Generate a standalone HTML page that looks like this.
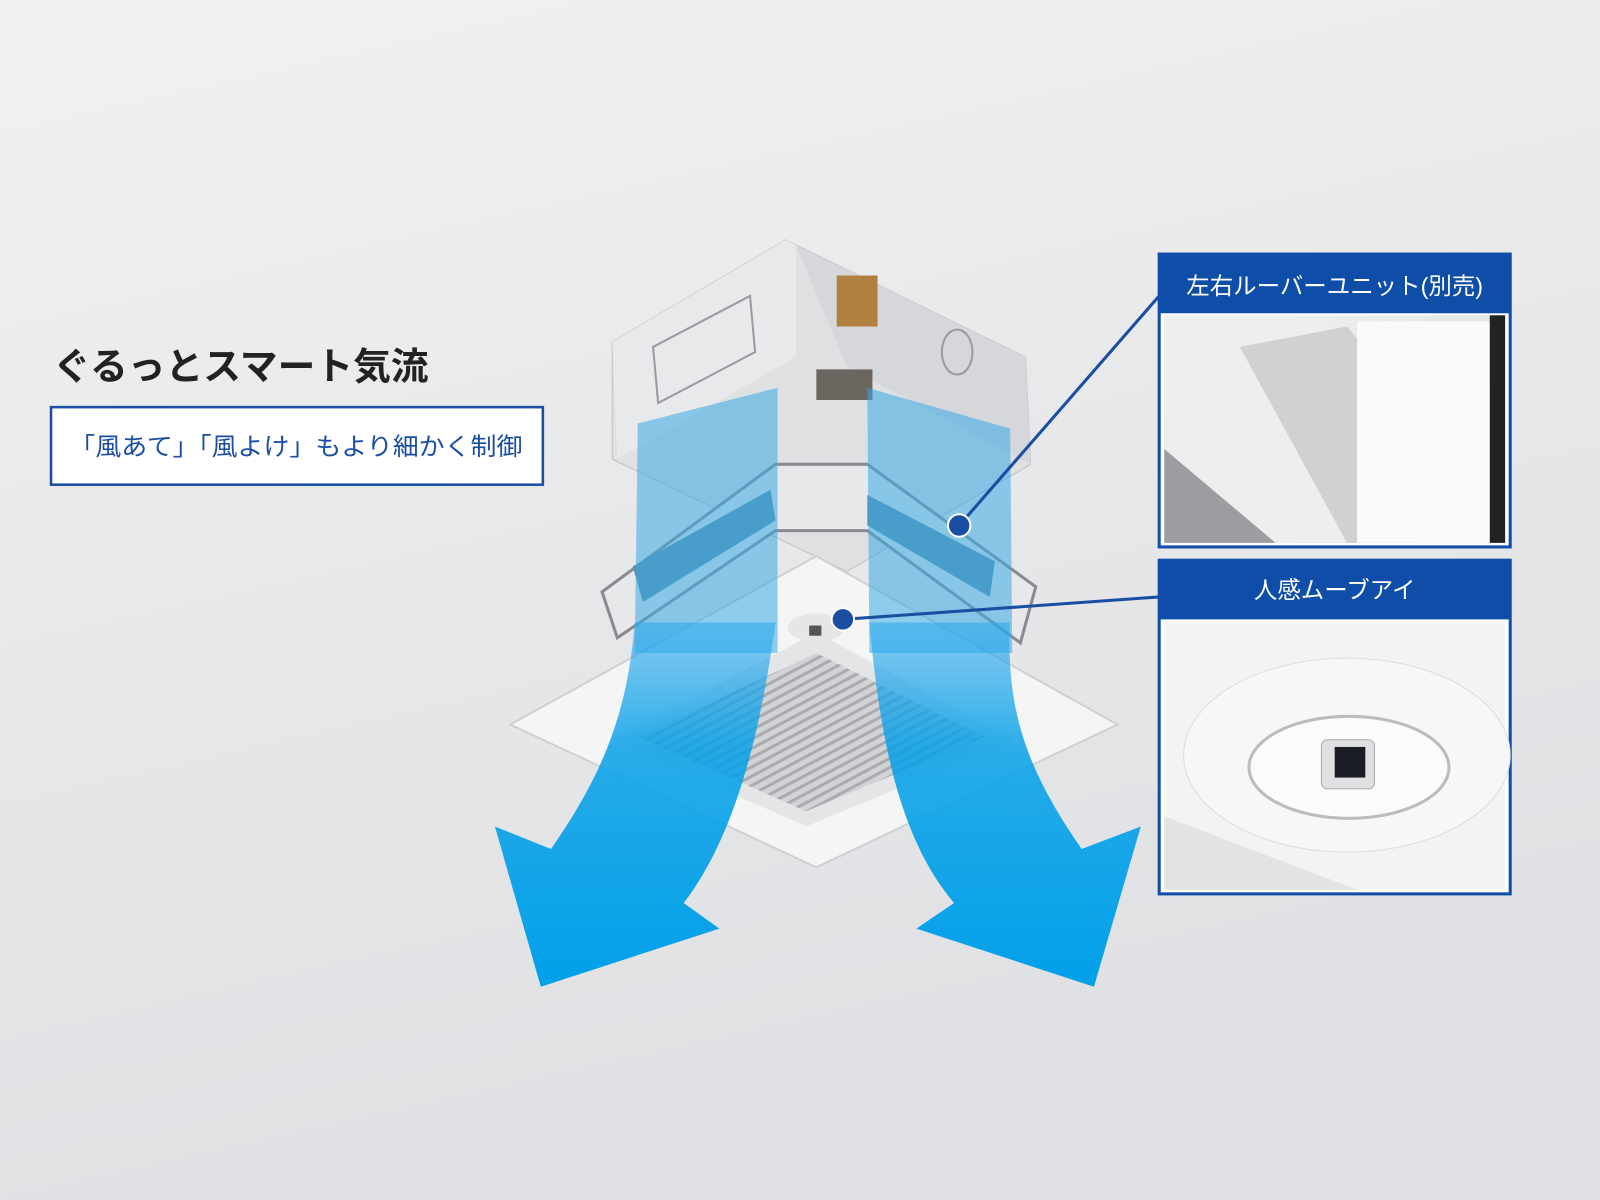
<!DOCTYPE html>
<html><head><meta charset="utf-8"><style>
html,body{margin:0;padding:0;width:1600px;height:1200px;overflow:hidden;background:#ececec}
svg{display:block}
text{font-family:"Liberation Sans","Noto Sans CJK JP",sans-serif}
</style></head><body>
<svg width="1600" height="1200" viewBox="0 0 1568 1176" preserveAspectRatio="none">
<defs>
<linearGradient id="bg" x1="0" y1="0" x2="0.3" y2="1"><stop offset="0" stop-color="#f1f1f1"/><stop offset="1" stop-color="#dfe0e3"/></linearGradient>
<linearGradient id="ar" x1="0" y1="0" x2="0" y2="1"><stop offset="0" stop-color="#2aa8ec" stop-opacity="0.55"/><stop offset="0.35" stop-color="#06a0e8" stop-opacity="0.85"/><stop offset="1" stop-color="#00a0e9"/></linearGradient>
<pattern id="gr" width="8" height="8" patternUnits="userSpaceOnUse" patternTransform="rotate(-28)"><rect width="8" height="8" fill="#d2d3d5"/><rect width="8" height="3" fill="#a9abae"/></pattern>
<linearGradient id="p1" x1="0" y1="0" x2="1" y2="1"><stop offset="0" stop-color="#f4f4f4"/><stop offset="1" stop-color="#d6d7d9"/></linearGradient>
</defs>
<rect width="1568" height="1176" fill="url(#bg)"/>

<text x="52" y="372" font-size="37" font-weight="bold" fill="#222" textLength="368" lengthAdjust="spacingAndGlyphs">ぐるっとスマート気流</text>
<rect x="50" y="399" width="482" height="76" fill="#fff" stroke="#1a4ea3" stroke-width="2.5"/>
<text x="68" y="446" font-size="24" fill="#1a4ea3" textLength="444" lengthAdjust="spacingAndGlyphs">「風あて」「風よけ」もより細かく制御</text>

<polygon points="600,335 770,235 1005,350 1010,455 830,560 600,450" fill="#dfe0e2" stroke="#bfc0c3"/>
<polygon points="600,335 770,235 780,240 780,350 605,450" fill="#e8e9eb"/>
<polygon points="780,240 1005,350 1010,455 830,360" fill="#d6d7da"/>
<rect x="820" y="270" width="40" height="50" fill="#b08040"/>
<polygon points="640,340 735,290 740,345 645,395" fill="none" stroke="#9a9ba0" stroke-width="2"/>
<ellipse cx="938" cy="345" rx="15" ry="22" fill="none" stroke="#9a9ba0" stroke-width="2"/>
<rect x="800" y="362" width="55" height="30" fill="#6b6660"/>
<polygon points="590,580 760,455 850,455 1015,575 1000,630 850,520 760,520 605,625" fill="#e8e8ea" stroke="#8a8b90" stroke-width="3"/>
<polygon points="620,555 755,480 760,510 630,590" fill="#5d8fa8"/>
<polygon points="850,485 975,550 970,585 850,515" fill="#5d8fa8"/>
<polygon points="500,710 800,545 1095,710 800,850" fill="#f5f5f6" stroke="#cfd0d3" stroke-width="2"/>
<polygon points="600,725 800,620 995,725 790,810" fill="#e4e5e7"/>
<polygon points="625,722 800,640 965,722 790,795" fill="url(#gr)"/>
<ellipse cx="800" cy="615" rx="28" ry="14" fill="#e6e6e8"/>
<rect x="793" y="613" width="12" height="10" fill="#555"/>

<polygon points="625,415 762,380 762,640 622,640" fill="#39a9e6" opacity="0.55"/>
<polygon points="850,380 990,420 992,640 852,640" fill="#39a9e6" opacity="0.55"/>

<path d="M622,610 L760,610 C 745,720 720,820 670,885 L705,910 L530,967 L485,810 L540,832 C 590,760 615,700 622,610 Z" fill="url(#ar)"/>
<path d="M852,610 L990,610 C 985,700 1010,760 1060,832 L1118,810 L1072,967 L898,910 L935,885 C 880,820 862,720 852,610 Z" fill="url(#ar)"/>

<line x1="1136" y1="290" x2="940" y2="515" stroke="#1a4ea3" stroke-width="3"/>
<circle cx="940" cy="515" r="11" fill="#1a4ea3" stroke="#fff" stroke-width="2"/>
<line x1="1136" y1="585" x2="826" y2="607" stroke="#1a4ea3" stroke-width="3"/>
<circle cx="826" cy="607" r="11" fill="#1a4ea3" stroke="#fff" stroke-width="2"/>

<rect x="1136" y="249" width="344" height="287" fill="#fff" stroke="#0e4ea8" stroke-width="3"/>
<rect x="1136" y="249" width="344" height="58" fill="#0e4ea8"/>
<text x="1308" y="288" font-size="23" fill="#fff" text-anchor="middle">左右ルーバーユニット(別売)</text>
<rect x="1141" y="309" width="334" height="223" fill="url(#p1)"/>
<polygon points="1141,309 1270,309 1470,380 1470,532 1141,532" fill="#eeeeef"/>
<polygon points="1141,440 1250,532 1141,532" fill="#9c9da0"/>
<polygon points="1215,340 1320,320 1400,420 1395,532 1320,532" fill="#c7c9cb" opacity="0.8"/>
<rect x="1330" y="315" width="130" height="217" fill="#fafafa"/>
<rect x="1460" y="309" width="15" height="223" fill="#222"/>
<rect x="1136" y="549" width="344" height="327" fill="#fff" stroke="#0e4ea8" stroke-width="3"/>
<rect x="1136" y="549" width="344" height="58" fill="#0e4ea8"/>
<text x="1308" y="586" font-size="23" fill="#fff" text-anchor="middle">人感ムーブアイ</text>
<rect x="1141" y="609" width="334" height="263" fill="#f3f3f4"/>
<polygon points="1141,800 1330,872 1141,872" fill="#e2e3e5"/>
<ellipse cx="1320" cy="740" rx="160" ry="95" fill="#f7f7f8" stroke="#ddd"/>
<ellipse cx="1322" cy="752" rx="98" ry="50" fill="#fbfbfb" stroke="#bcbcbf" stroke-width="3"/>
<rect x="1295" y="725" width="52" height="48" rx="6" fill="#e0e0e2" stroke="#aaa"/>
<rect x="1308" y="732" width="30" height="30" fill="#1a1d25"/>
</svg>
</body></html>
